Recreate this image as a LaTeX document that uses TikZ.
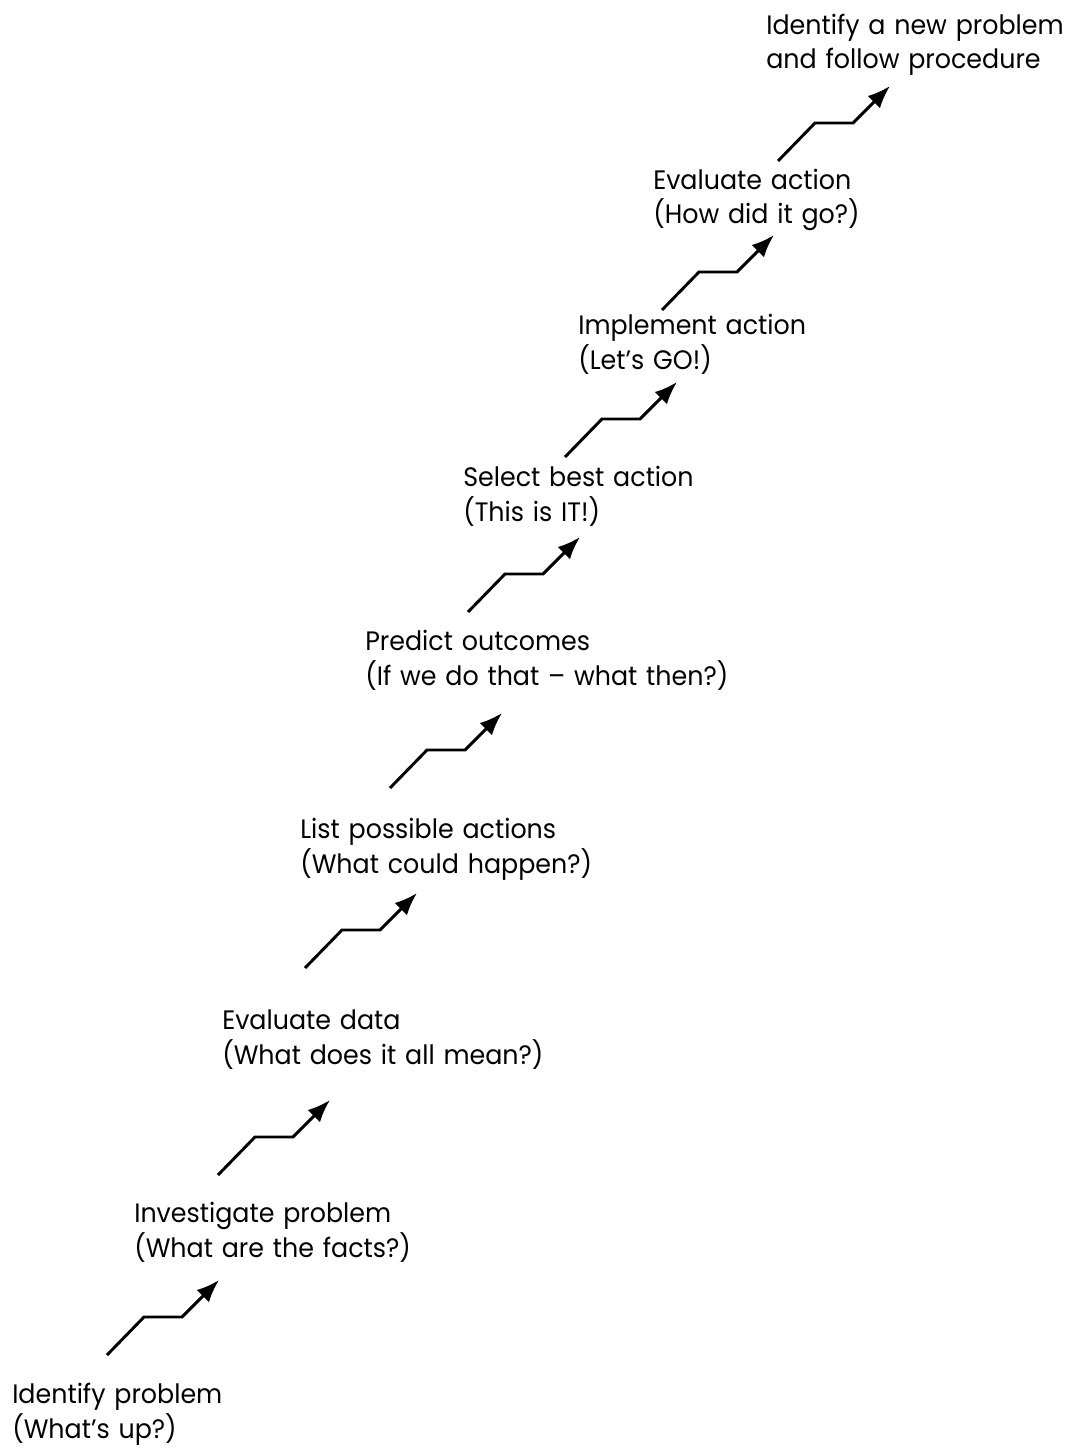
\documentclass[tikz,border=0pt]{standalone}
\usepackage{fontspec}
\setmainfont[FakeStretch=0.95, WordSpace=1.3]{Poppins}
\usepackage{tikz}
\usetikzlibrary{arrows.meta, positioning}
\tikzstyle{stage} = [
    anchor=base west,
    align=left,
    inner sep=0pt,
    font=\fontsize{20}{26}\selectfont
]
\tikzstyle{stair} = [
    line width=2.2pt,
    -{Latex[length=17pt, width=13pt]},
    color=black
]

\begin{document}
\begin{tikzpicture}[x=0.75pt, y=-0.75pt]
        \useasboundingbox (0,0) rectangle (1084,1451);

        % stages, bottom to top (placed at the baseline of the last line)
        \node[stage] (identify) at (12,1438) {Identify problem\\(What's up?)};
        \node[stage] (investigate) at (134,1257) {Investigate problem\\(What are the facts?)};
        \node[stage] (evaldata) at (222,1064) {Evaluate data\\(What does it all mean?)};
        \node[stage] (list) at (300,873) {List possible actions\\(What could happen?)};
        \node[stage] (predict) at (365,685) {Predict outcomes\\(If we do that -- what then?)};
        \node[stage] (select) at (463,521) {Select best action\\(This is IT!)};
        \node[stage] (implement) at (578,369) {Implement action\\(Let's GO!)};
        \node[stage] (evalaction) at (653,224) {Evaluate action\\(How did it go?)};
        \node[stage] (newproblem) at (766,69) {Identify a new problem\\and follow procedure};

        % stair arrows between the stages
        \coordinate (s1) at (107,1355);
        \coordinate (s2) at (218,1175);
        \coordinate (s3) at (305,968);
        \coordinate (s4) at (390,788);
        \coordinate (s5) at (468,612);
        \coordinate (s6) at (565,457);
        \coordinate (s7) at (662,310);
        \coordinate (s8) at (778,161);

        \draw[stair] (s1) -- ++(37,-38) -- ++(38,0) -- ++(37,-37);
        \draw[stair] (s2) -- ++(37,-38) -- ++(38,0) -- ++(37,-37);
        \draw[stair] (s3) -- ++(37,-38) -- ++(38,0) -- ++(37,-37);
        \draw[stair] (s4) -- ++(37,-38) -- ++(38,0) -- ++(37,-37);
        \draw[stair] (s5) -- ++(37,-38) -- ++(38,0) -- ++(37,-37);
        \draw[stair] (s6) -- ++(37,-38) -- ++(38,0) -- ++(37,-37);
        \draw[stair] (s7) -- ++(37,-38) -- ++(38,0) -- ++(37,-37);
        \draw[stair] (s8) -- ++(37,-38) -- ++(38,0) -- ++(37,-37);
    \end{tikzpicture}
\end{document}
